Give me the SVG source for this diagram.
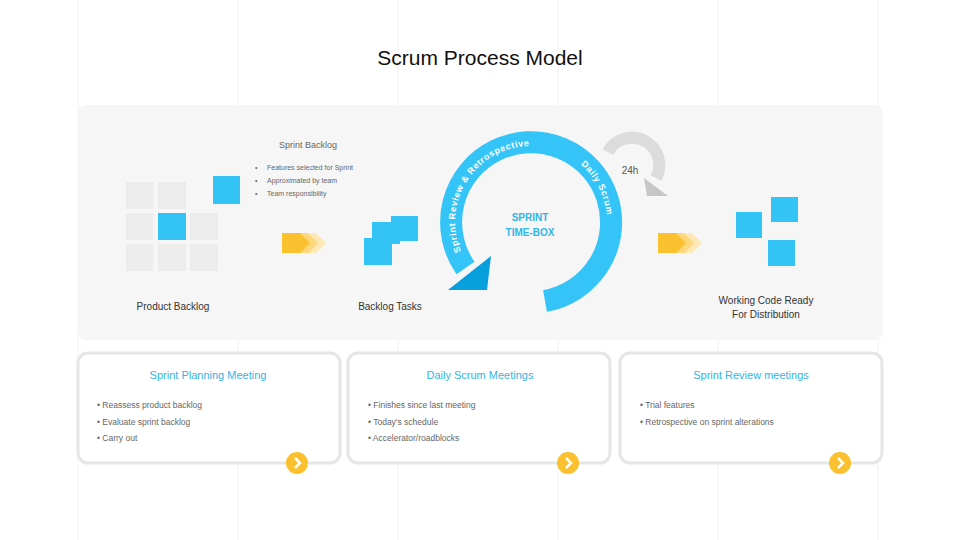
<svg xmlns="http://www.w3.org/2000/svg" width="960" height="540" viewBox="0 0 960 540">
<style>
text{font-family:"Liberation Sans",Arial,sans-serif}
.g{fill:#ececec}.b{fill:#33c3f5}
.sm{font-size:7px;fill:#666}
.li{font-size:8.5px;fill:#666}
.h{font-size:11px;fill:#33b5e5;text-anchor:middle}
.lbl{font-size:10px;fill:#333;text-anchor:middle}
.card{fill:#fff;stroke:#e6e6e6;stroke-width:3}
.rt{font-size:9px;font-weight:bold;fill:#fff;letter-spacing:0.6px}
</style>
<defs>
<g id="chev"><polygon points="0,0 20,0 30,10 20,20 0,20" fill="#fbc02d"/><polygon points="18,0 28,0 38,10 28,20 18,20 28,10" fill="#fdd77a"/><polygon points="26,0 34,0 44,10 34,20 26,20 36,10" fill="#fde9b5"/></g>
<g id="go"><circle r="11" fill="#fbc02d"/><path d="M-2,-5 L3,0 L-2,5" stroke="#fff" stroke-width="2.5" fill="none"/></g>
<path id="ringp" d="M 465.2,260 A 76 76 0 1 1 596.8,260"/>
</defs>
<rect width="960" height="540" fill="#fff"/>
<g stroke="#f2f2f2"><line x1="78" y1="0" x2="78" y2="540"/><line x1="238" y1="0" x2="238" y2="540"/><line x1="398" y1="0" x2="398" y2="540"/><line x1="558" y1="0" x2="558" y2="540"/><line x1="718" y1="0" x2="718" y2="540"/><line x1="878" y1="0" x2="878" y2="540"/></g>
<text x="480" y="65" font-size="21" text-anchor="middle" fill="#111">Scrum Process Model</text>
<rect x="78" y="105" width="805" height="235" rx="8" fill="#f6f6f6"/>
<g id="product-backlog">
<rect class="g" x="126" y="182" width="27" height="27"/><rect class="g" x="158" y="182" width="28" height="27"/>
<rect class="b" x="213" y="176" width="27" height="28"/>
<rect class="g" x="126" y="213" width="27" height="27"/><rect class="b" x="158" y="213" width="28" height="27"/><rect class="g" x="190" y="213" width="28" height="27"/>
<rect class="g" x="126" y="244" width="27" height="27"/><rect class="g" x="158" y="244" width="28" height="27"/><rect class="g" x="190" y="244" width="28" height="27"/>
<text class="lbl" x="173" y="310">Product  Backlog</text>
</g>
<g id="sprint-backlog">
<text x="308" y="148" font-size="9" fill="#666" text-anchor="middle">Sprint Backlog</text>
<text class="sm" x="255" y="170">•</text><text class="sm" x="267" y="170">Features selected for Sprint</text>
<text class="sm" x="255" y="183">•</text><text class="sm" x="267" y="183">Approximated by team</text>
<text class="sm" x="255" y="196">•</text><text class="sm" x="267" y="196">Team responsibility</text>
</g>
<use href="#chev" x="282" y="233"/>
<g id="backlog-tasks">
<rect class="b" x="391" y="216" width="27" height="25"/><rect class="b" x="372" y="222" width="28" height="22"/><rect class="b" x="364" y="238" width="28" height="27"/>
<text class="lbl" x="390" y="310">Backlog Tasks</text>
</g>
<g id="sprint">
<path d="M 545,301 A 80 80 0 1 0 465.5,268" fill="none" stroke="#35c4f7" stroke-width="22"/>
<polygon points="448,290 491,256 487,290" fill="#079fdd"/>
<text class="rt"><textPath href="#ringp" startOffset="3%">Sprint Review &amp; Retrospective</textPath></text>
<text class="rt"><textPath href="#ringp" startOffset="67%">Daily Scrum</textPath></text>
<text x="530" y="221" font-size="10" font-weight="bold" fill="#33b5e5" text-anchor="middle">SPRINT</text>
<text x="530" y="236" font-size="10" font-weight="bold" fill="#33b5e5" text-anchor="middle">TIME-BOX</text>
<path d="M 608,152 A 27 27 0 1 1 656,178" fill="none" stroke="#dcdcdc" stroke-width="12"/>
<polygon points="644,178 668,196 647,196" fill="#c6c6c6"/>
<text x="630" y="174" font-size="10" fill="#555" text-anchor="middle">24h</text>
</g>
<use href="#chev" x="658" y="233"/>
<g id="working-code">
<rect class="b" x="771" y="197" width="27" height="25"/><rect class="b" x="736" y="212" width="26" height="26"/><rect class="b" x="768" y="240" width="27" height="26"/>
<text class="lbl" x="766" y="304">Working Code Ready</text>
<text class="lbl" x="766" y="318">For Distribution</text>
</g>
<g id="card1">
<rect class="card" x="78" y="353" width="262" height="110" rx="10"/>
<text class="h" x="208" y="379">Sprint Planning Meeting</text>
<text class="li" x="97" y="408">•   Reassess product backlog</text>
<text class="li" x="97" y="425">•   Evaluate sprint backlog</text>
<text class="li" x="97" y="441">•   Carry out</text>
<use href="#go" x="297" y="463"/>
</g>
<g id="card2">
<rect class="card" x="348" y="353" width="262" height="110" rx="10"/>
<text class="h" x="480" y="379">Daily Scrum Meetings</text>
<text class="li" x="368" y="408">•   Finishes since last meeting</text>
<text class="li" x="368" y="425">•   Today's schedule</text>
<text class="li" x="368" y="441">•   Accelerator/roadblocks</text>
<use href="#go" x="568" y="463"/>
</g>
<g id="card3">
<rect class="card" x="620" y="353" width="262" height="110" rx="10"/>
<text class="h" x="751" y="379">Sprint Review meetings</text>
<text class="li" x="640" y="408">•   Trial features</text>
<text class="li" x="640" y="425">•   Retrospective on sprint alterations</text>
<use href="#go" x="840" y="463"/>
</g>
<g id="connectors"/>
</svg>
